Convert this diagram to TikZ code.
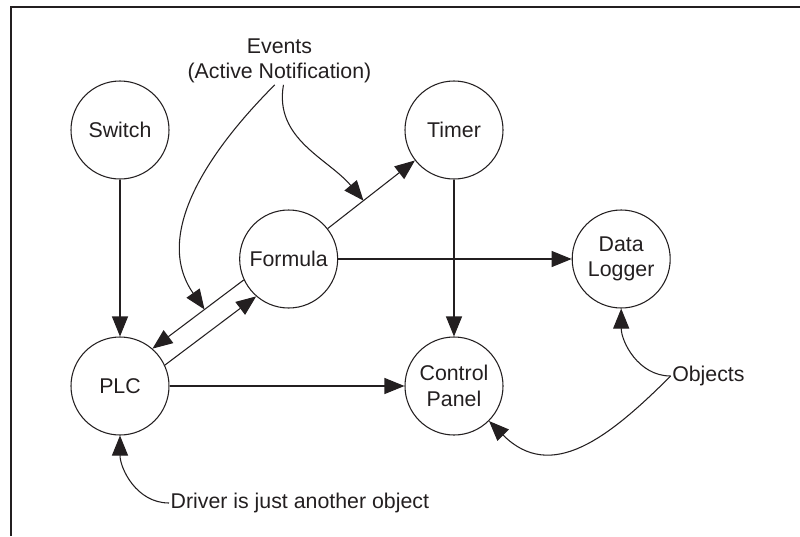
\documentclass[tikz,border=0pt]{standalone}
\usepackage{fontspec}
\setmainfont{Liberation Sans}
\usetikzlibrary{positioning, arrows.meta}
\definecolor{ink}{HTML}{231F20}

\begin{document}
\begin{tikzpicture}[x=1pt, y=1pt, on grid, color=ink, font=\fontsize{16}{19}\selectfont]

  % Definitions
  \tikzstyle{Object} = [circle, minimum size=73.5pt, inner sep=0pt, align=center, draw=ink, line width=0.8pt]
  \tikzstyle{Note} = [inner sep=1pt, align=center]
  \tikzstyle{arrow} = [line width=0.8pt, ->, >={Triangle[length=15pt, width=12pt]}]

  \useasboundingbox (0,0) rectangle (600,-402);
  \draw [line width=1.6pt] (8.25,-402) -- (8.25,-5.25) -- (600,-5.25);

  \node (Switch) [Object] at (90,-97.5) {Switch};
  \node (Timer) [Object, right=250.5pt of Switch] {Timer};
  \node (PLC) [Object, below=192pt of Switch] {PLC};
  \node (Panel) [Object, right=250.5pt of PLC] {Control\\Panel};
  \node (Formula) [Object, below right=96.75pt and 126.5pt of Switch] {Formula};
  \node (Logger) [Object, right=249.4pt of Formula] {Data\\Logger};

  \node (Events) [Note] at (209.6,-45.75) {Events\\(Active Notification)};
  \node (Objects) [Note, anchor=west] at (503,-282) {Objects};
  \node (Driver) [Note, anchor=west] at (126.75,-377.25) {Driver is just another object};

  \draw [arrow] (Switch) -- (PLC);
  \draw [arrow] (Timer) -- (Panel);
  \draw [arrow] (PLC) -- (Panel);
  \draw [arrow] (Formula) -- (Logger);
  \draw [arrow] (Formula) -- coordinate[pos=0.41] (toTimer) (Timer);
  \draw [arrow] (Formula.205) -- coordinate[pos=0.43] (toPLC) (PLC.49);
  \draw [arrow] (PLC.25) -- (Formula.229);

  % notes
  \draw [arrow] ([xshift=-3.5pt]Events.south) to[out=225, in=125] (toPLC);
  \draw [arrow] ([xshift=3pt]Events.south) to[out=-100, in=130] (toTimer);
  \draw [arrow] (Objects.west) to[out=180, in=-90] (Logger);
  \draw [arrow] (Objects.west) to[out=225, in=-45, looseness=1.2] (Panel);
  \draw [arrow] (Driver.west) to[out=180, in=-90] (PLC);

\end{tikzpicture}
\end{document}
